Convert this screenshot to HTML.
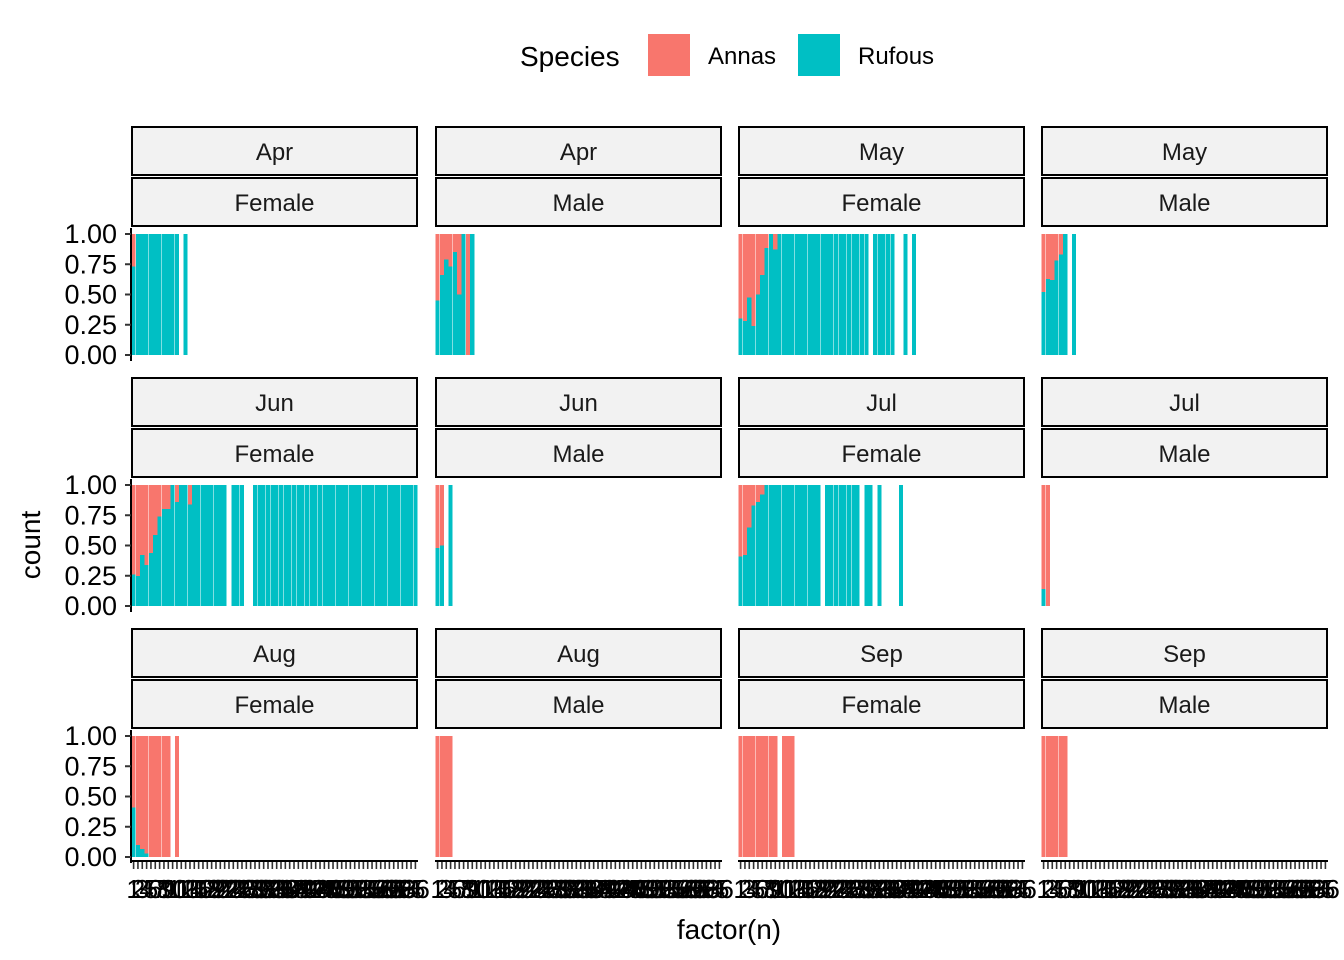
<!DOCTYPE html>
<html><head><meta charset="utf-8"><style>
html,body{margin:0;padding:0;background:#fff;}
svg{display:block;font-family:"Liberation Sans",Arial,sans-serif;}
</style></head><body>
<svg id="chart" width="1344" height="960" viewBox="0 0 1344 960">
  <g>
    <text x="520" y="66" font-size="28" fill="#000">Species</text>
    <rect x="648" y="34" width="42" height="42" fill="#F8766D"></rect>
    <text x="708" y="64" font-size="24" fill="#000">Annas</text>
    <rect x="798" y="34" width="42" height="42" fill="#00BFC4"></rect>
    <text x="858" y="64" font-size="24" fill="#000">Rufous</text>
  </g>
  <text x="729" y="939" font-size="28" text-anchor="middle" fill="#000">factor(n)</text>
  <text transform="translate(40,545) rotate(-90)" font-size="28" text-anchor="middle" fill="#000">count</text>
  <g id="panels"></g>
</svg>
<script>
// ---- data ----
const months = ["Apr","Apr","May","May","Jun","Jun","Jul","Jul","Aug","Aug","Sep","Sep"];
const sexes  = ["Female","Male","Female","Male","Female","Male","Female","Male","Female","Male","Female","Male"];
const yTicks = [0, 0.25, 0.5, 0.75, 1];
const yTickLabels = ["0.00","0.25","0.50","0.75","1.00"];
const nLevels = 66;
const levelLabels = ["1","2","3","4","5","6","7","8","9","10","11","12","13","14","15","16","17","18","19","20","21","22","23","24","25","26","27","28","29","30","31","32","33","34","35","36","37","38","39","40","41","42","43","44","45","46","47","48","49","50","51","52","53","54","55","56","57","58","59","60","61","62","63","64","65","66"];

const levelsAprF = [1,2,3,4,5,6,7,8,9,10,11,13];
const annasAprF  = [0.27,0,0,0,0,0,0,0,0,0,0,0];
const levelsAprM = [1,2,3,4,5,6,7,8,9];
const annasAprM  = [0.55,0.34,0.21,0.27,0.15,0.5,0,1,0];
const levelsMayF = [1,2,3,4,5,6,7,8,9,10,11,12,13,14,15,16,17,18,19,20,21,22,23,24,25,26,27,28,29,30,32,33,34,35,36,39,41];
const annasMayF  = [0.7,0.72,0.525,0.76,0.5,0.34,0.115,0,0.13,0,0,0,0,0,0,0,0,0,0,0,0,0,0,0,0,0,0,0,0,0,0,0,0,0,0,0,0];
const levelsMayM = [1,2,3,4,5,6,8];
const annasMayM  = [0.48,0.37,0.38,0.22,0.17,0,0];
const levelsJunF = [1,2,3,4,5,6,7,8,9,10,11,12,13,14,15,16,17,18,19,20,21,22,24,25,26,29,30,31,32,33,34,35,36,37,38,39,40,41,42,43,44,45,46,47,48,49,50,51,52,53,54,55,56,57,58,59,60,61,62,63,64,65,66];
const annasJunF  = [0.74,0.75,0.58,0.66,0.56,0.415,0.26,0.2,0.2,0,0.14,0,0,0.16,0,0,0,0,0,0,0,0,0,0,0,0,0,0,0,0,0,0,0,0,0,0,0,0,0,0,0,0,0,0,0,0,0,0,0,0,0,0,0,0,0,0,0,0,0,0,0,0,0];
const levelsJunM = [1,2,4];
const annasJunM  = [0.52,0.5,0];
const levelsJulF = [1,2,3,4,5,6,7,8,9,10,11,12,13,14,15,16,17,18,19,21,22,23,24,25,26,27,28,30,31,33,38];
const annasJulF  = [0.59,0.58,0.35,0.17,0.14,0.08,0,0,0,0,0,0,0,0,0,0,0,0,0,0,0,0,0,0,0,0,0,0,0,0,0];
const levelsJulM = [1,2];
const annasJulM  = [0.86,1];
const levelsAugF = [1,2,3,4,5,6,7,8,9,11];
const annasAugF  = [0.59,0.9,0.935,0.97,1,1,1,1,1,1];
const levelsAugM = [1,2,3,4];
const annasAugM  = [1,1,1,1];
const levelsSepF = [1,2,3,4,5,6,7,8,9,11,12,13];
const annasSepF  = [1,1,1,1,1,1,1,1,1,1,1,1];
const levelsSepM = [1,2,3,4,5,6];
const annasSepM  = [1,1,1,1,1,1];

const panelLevels = [levelsAprF,levelsAprM,levelsMayF,levelsMayM,levelsJunF,levelsJunM,levelsJulF,levelsJulM,levelsAugF,levelsAugM,levelsSepF,levelsSepM];
const panelAnnas  = [annasAprF,annasAprM,annasMayF,annasMayM,annasJunF,annasJunM,annasJulF,annasJulM,annasAugF,annasAugM,annasSepF,annasSepM];

// ---- layout ----
const NS = "http://www.w3.org/2000/svg";
const root = document.getElementById("panels");
const colX = [131, 435, 738, 1041];
const panelW = 287;
const rowTop = [126, 377, 628];
const RED = "#F8766D", TEAL = "#00BFC4";

function mk(tag, attrs, parent) {
  const e = document.createElementNS(NS, tag);
  for (const k in attrs) e.setAttribute(k, attrs[k]);
  parent.appendChild(e);
  return e;
}

for (let p = 0; p < 12; p++) {
  const col = p % 4, row = Math.floor(p / 4);
  const x0 = colX[col], top = rowTop[row];
  const g = mk("g", {}, root);
  
  

  const s1 = mk("rect", {x: x0 + 1, y: top + 1, width: panelW - 2, height: 48, fill: "#F2F2F2", stroke: "#000", "stroke-width": 2}, g);
  
  
  const t1 = mk("text", {x: x0 + panelW / 2, y: top + 34, "font-size": 24, "text-anchor": "middle", fill: "#1a1a1a"}, g);
  t1.textContent = months[p];
  
  
  const s2 = mk("rect", {x: x0 + 1, y: top + 52, width: panelW - 2, height: 48, fill: "#F2F2F2", stroke: "#000", "stroke-width": 2}, g);
  
  
  const t2 = mk("text", {x: x0 + panelW / 2, y: top + 85, "font-size": 24, "text-anchor": "middle", fill: "#1a1a1a"}, g);
  t2.textContent = sexes[p];
  
  

  const pTop = top + 102;
  const yScale = v => pTop + 6 + (1 - v) * 121;
  const step = panelW / (nLevels + 0.2);
  const xScale = lvl => x0 + (lvl - 0.4) * step;
  const bw = step * 0.95;

  const lv = panelLevels[p], an = panelAnnas[p];
  for (let i = 0; i < lv.length; i++) {
    const cx = xScale(lv[i]);
    const a = an[i];
    const teal = mk("rect", {x: cx - bw / 2, y: yScale(1 - a), width: bw, height: yScale(0) - yScale(1 - a), fill: TEAL, "shape-rendering": "crispEdges"}, g);
    
    
    if (a > 0) {
      const red = mk("rect", {x: cx - bw / 2, y: yScale(1), width: bw, height: yScale(1 - a) - yScale(1), fill: RED, "shape-rendering": "crispEdges"}, g);
      
      
    }
  }

  if (col === 0) {
    const ax = mk("line", {x1: x0, x2: x0, y1: pTop, y2: pTop + 133, stroke: "#000", "stroke-width": 2}, g);
    
    
    for (let k = 0; k < yTicks.length; k++) {
      const yy = yScale(yTicks[k]);
      const tk = mk("line", {x1: x0 - 6, x2: x0, y1: yy, y2: yy, stroke: "#333", "stroke-width": 2}, g);
      
      
      const tl = mk("text", {x: x0 - 14, y: yy + 9, "font-size": 27, "text-anchor": "end", fill: "#000"}, g);
      tl.textContent = yTickLabels[k];
      
      
    }
  }
  if (row === 2) {
    const bx = mk("line", {x1: x0, x2: x0 + panelW, y1: 861, y2: 861, stroke: "#000", "stroke-width": 2}, g);
    
    
    for (let k = 0; k < nLevels; k++) {
      const xx = xScale(k + 1);
      const tk = mk("line", {x1: xx, x2: xx, y1: 862, y2: 869, stroke: "#333", "stroke-width": 1.6}, g);
      
      
      const tl = mk("text", {x: xx, y: 898, "font-size": 26, "text-anchor": "middle", fill: "#000"}, g);
      tl.textContent = levelLabels[k];
      
      
    }
  }
}
</script>
</body></html>
